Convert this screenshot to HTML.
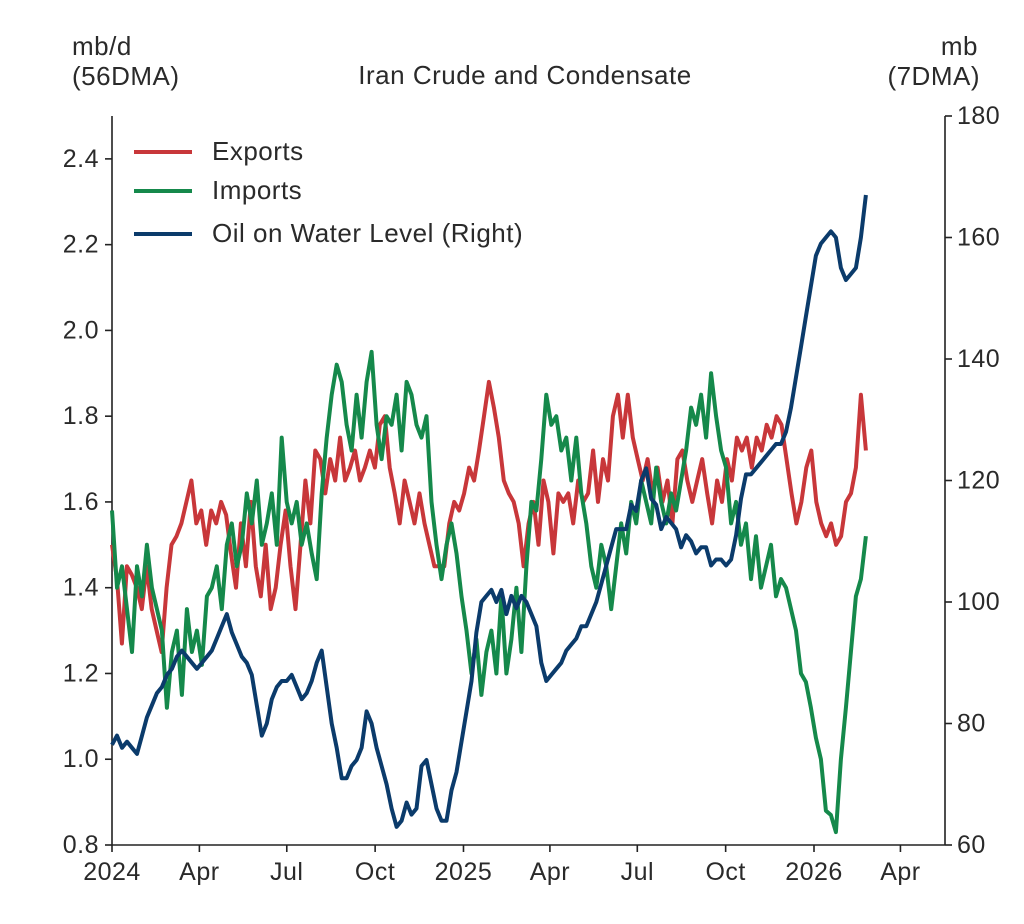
<!DOCTYPE html>
<html><head><meta charset="utf-8"><style>
body{margin:0;background:#fff}
svg text{font-family:"Liberation Sans",sans-serif;fill:#2a2a2a;letter-spacing:0.5px}
</style></head><body>
<svg id="chart" width="1024" height="919" xmlns="http://www.w3.org/2000/svg">
<text x="525" y="84" font-size="26" text-anchor="middle">Iran Crude and Condensate</text>
<text x="72" y="55" font-size="26">mb/d</text>
<text x="72" y="85" font-size="26">(56DMA)</text>
<text x="978" y="55" font-size="26" text-anchor="end">mb</text>
<text x="980" y="85" font-size="26" text-anchor="end">(7DMA)</text>
<g id="axes"></g>
<g id="series"></g>
<g id="legend"></g>
</svg>
<script>
const leftTicks=[0.8,1.0,1.2,1.4,1.6,1.8,2.0,2.2,2.4];
const rightTicks=[60,80,100,120,140,160,180];
const xTickLabels=["2024","Apr","Jul","Oct","2025","Apr","Jul","Oct","2026","Apr"];
const xTickDates=["2024-01-01","2024-04-01","2024-07-01","2024-10-01","2025-01-01","2025-04-01","2025-07-01","2025-10-01","2026-01-01","2026-04-01"];
const startDate="2024-01-01";
const endDate="2026-02-24";
const exportsVals=[1.5,1.42,1.27,1.45,1.43,1.4,1.35,1.45,1.35,1.3,1.25,1.4,1.5,1.52,1.55,1.6,1.65,
1.55,1.58,1.5,1.58,1.55,1.6,1.57,1.48,1.4,1.55,1.45,1.6,1.45,1.38,1.5,1.35,1.4,1.5,1.58,1.45,1.35,1.5,1.65,1.55,1.72,1.7,1.62,1.7,1.65,1.75,1.65,1.68,1.72,1.65,1.68,1.72,1.68,1.78,1.8,1.68,1.62,1.55,1.65,1.6,1.55,1.62,1.55,1.5,1.45,1.45,1.45,1.55,1.6,1.58,1.62,1.68,1.65,1.72,1.8,1.88,1.82,1.75,1.65,1.62,1.6,1.55,1.45,1.55,1.6,1.5,1.65,1.6,1.48,1.62,1.6,1.62,1.55,1.65,1.6,1.62,1.72,1.6,1.7,1.65,1.8,1.85,1.75,1.85,1.75,1.7,1.65,1.7,1.62,1.68,1.6,1.65,1.55,1.7,1.72,1.65,1.6,1.65,1.7,1.62,1.55,1.65,1.6,1.7,1.65,1.75,1.72,1.75,1.68,1.75,1.72,1.78,1.75,1.8,1.78,1.7,1.62,1.55,1.6,1.68,1.72,1.6,1.55,1.52,1.55,1.5,1.52,1.6,1.62,1.68,1.85,1.72];
const importsVals=[1.58,1.4,1.45,1.35,1.25,1.45,1.38,1.5,1.4,1.35,1.3,1.12,1.25,1.3,1.15,1.35,1.25,1.3,1.22,1.38,1.4,1.45,1.35,1.5,1.55,1.45,1.5,1.62,1.55,1.65,1.5,1.55,1.62,1.5,1.75,1.6,1.55,1.6,1.5,1.55,1.48,1.42,1.62,1.75,1.85,1.92,1.88,1.78,1.72,1.85,1.75,1.88,1.95,1.78,1.7,1.8,1.78,1.85,1.72,1.88,1.85,1.78,1.75,1.8,1.6,1.5,1.42,1.5,1.55,1.48,1.38,1.3,1.2,1.28,1.15,1.25,1.3,1.2,1.38,1.2,1.28,1.4,1.25,1.45,1.6,1.58,1.7,1.85,1.78,1.8,1.72,1.75,1.65,1.75,1.62,1.55,1.45,1.4,1.5,1.45,1.35,1.45,1.55,1.48,1.6,1.55,1.65,1.6,1.55,1.68,1.6,1.55,1.62,1.58,1.65,1.72,1.82,1.78,1.85,1.75,1.9,1.8,1.72,1.68,1.55,1.6,1.5,1.55,1.42,1.52,1.4,1.45,1.5,1.38,1.42,1.4,1.35,1.3,1.2,1.18,1.12,1.05,1.0,0.88,0.87,0.83,1.0,1.12,1.25,1.38,1.42,1.52];
const oilVals=[76.5,78,76,77,76,75,78,81,83,85,86,88,89,91,92,91,90,89,90,91,92,94,96,98,95,93,91,90,88,83,78,80,84,86,87,87,88,86,84,85,87,90,92,86,80,76,71,71,73,74,76,82,80,76,73,70,66,63,64,67,65,66,73,74,70,66,64,64,69,72,77,82,87,95,100,101,102,100,102,98,101,99,101,100,98,96,90,87,88,89,90,92,93,94,96,96,98,100,103,106,109,112,112,112,116,115,120,122,117,116,112,114,113,112,109,111,110,108,109,109,106,107,107,106,107,111,117,121,121,122,123,124,125,126,126,128,132,137,142,147,152,157,159,160,161,160,155,153,154,155,160,167];

const NS="http://www.w3.org/2000/svg";
const X0=112,X1=945,Y0=845,YT=116;
const t0=Date.parse(startDate), tEnd=Date.parse(endDate), DAY=86400000;
const pxPerDay=702/731;
function xScale(ms){return X0+(ms-t0)/DAY*pxPerDay;}
function yL(v){return Y0-(v-0.8)/1.7*(Y0-YT);}
function yR(v){return Y0-(v-60)/120*(Y0-YT);}
function mk(tag,attrs,parent){const e=document.createElementNS(NS,tag);for(const k in attrs)e.setAttribute(k,attrs[k]);parent.appendChild(e);return e;}
const axes=document.getElementById('axes');
let e;
e=mk('line',{x1:X0,y1:YT,x2:X0,y2:Y0,stroke:'#222','stroke-width':1.6},axes);


e=mk('line',{x1:X1,y1:YT,x2:X1,y2:Y0,stroke:'#222','stroke-width':1.6},axes);


e=mk('line',{x1:X0,y1:Y0,x2:X1,y2:Y0,stroke:'#222','stroke-width':1.6},axes);


leftTicks.forEach(v=>{const y=yL(v);
 mk('line',{x1:X0-7,y1:y,x2:X0,y2:y,stroke:'#222','stroke-width':1.6},axes);
 e=mk('text',{x:X0-13,y:y+8,'font-size':25,'text-anchor':'end'},axes);e.textContent=v.toFixed(1);
 
 });
rightTicks.forEach(v=>{const y=yR(v);
 mk('line',{x1:X1,y1:y,x2:X1+7,y2:y,stroke:'#222','stroke-width':1.6},axes);
 e=mk('text',{x:X1+12,y:y+8,'font-size':25},axes);e.textContent=v;
 
 });
xTickDates.forEach((d,i)=>{const x=xScale(Date.parse(d));
 mk('line',{x1:x,y1:Y0,x2:x,y2:Y0+7,stroke:'#222','stroke-width':1.6},axes);
 e=mk('text',{x:x,y:Y0+35,'font-size':25,'text-anchor':'middle'},axes);e.textContent=xTickLabels[i];
 
 });
const ser=document.getElementById('series');
function draw(vals,ys,color,name){
 const n=vals.length;let d='';
 vals.forEach((v,i)=>{const ms=t0+(tEnd-t0)*i/(n-1);d+=(i?'L':'M')+xScale(ms).toFixed(1)+','+ys(v).toFixed(1);});
 const p=mk('path',{d:d,fill:'none',stroke:color,'stroke-width':4,'stroke-linejoin':'round'},ser);
 
 
}
draw(exportsVals,yL,'#c8373a','exports-line');
draw(importsVals,yL,'#15894b','imports-line');
draw(oilVals,yR,'#0b3b6b','oil-on-water-line');
const lg=document.getElementById('legend');
[["Exports",'#c8373a',152],["Imports",'#15894b',191],["Oil on Water Level (Right)",'#0b3b6b',234]].forEach(r=>{
 e=mk('line',{x1:134,y1:r[2],x2:192,y2:r[2],stroke:r[1],'stroke-width':4},lg);
 
 
 e=mk('text',{x:212,y:r[2]+8,'font-size':26},lg);e.textContent=r[0];
 
 
});
</script>
</body></html>
